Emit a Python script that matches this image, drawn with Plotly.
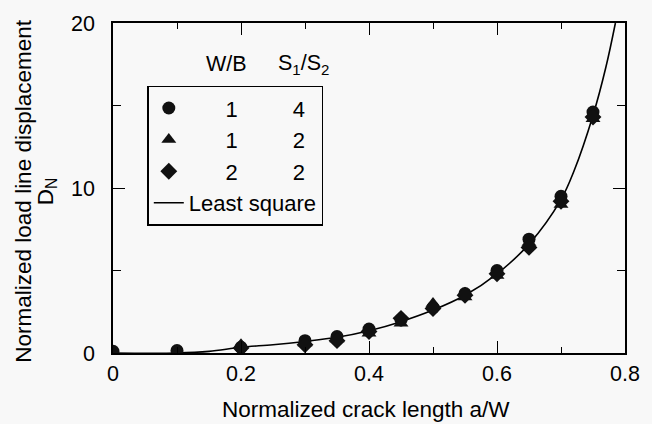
import plotly.graph_objects as go

# data
x_circ = [0.0, 0.1, 0.2, 0.3, 0.35, 0.4, 0.45, 0.5, 0.55, 0.6, 0.65, 0.7, 0.75]
y_circ = [0.1, 0.15, 0.35, 0.75, 1.0, 1.45, 2.0, 2.75, 3.6, 5.0, 6.9, 9.5, 14.6]
x_tri = [0.2, 0.3, 0.35, 0.4, 0.45, 0.5, 0.55, 0.6, 0.65, 0.7, 0.75]
y_tri = [0.5, 0.6, 0.85, 1.2, 1.8, 3.0, 3.4, 4.7, 6.7, 9.0, 14.2]
x_dia = [0.2, 0.3, 0.35, 0.4, 0.45, 0.5, 0.55, 0.6, 0.65, 0.7, 0.75]
y_dia = [0.3, 0.5, 0.75, 1.3, 2.1, 2.7, 3.5, 4.8, 6.4, 9.2, 14.3]
x_fit = [0.0, 0.1, 0.15, 0.2, 0.25, 0.3, 0.35, 0.4, 0.45, 0.5, 0.55, 0.6, 0.65, 0.7, 0.72, 0.75, 0.77, 0.785]
y_fit = [0.0, 0.0, 0.1, 0.35, 0.5, 0.7, 0.95, 1.35, 1.9, 2.6, 3.5, 4.8, 6.6, 9.3, 11.0, 14.4, 17.3, 20.0]

wb = ["1", "1", "2"]
s12 = ["4", "2", "2"]

FONT = "Liberation Sans, Arial, sans-serif"
pre = "&nbsp;" * 6
mid = "&nbsp;" * 9

fig = go.Figure()
fig.add_trace(go.Scatter(x=x_fit, y=y_fit, mode="lines", line=dict(color="black", width=1.6, shape="spline"),
                         name="Least square", showlegend=False))
fig.add_trace(go.Scatter(x=x_circ, y=y_circ, mode="markers", marker=dict(symbol="circle", size=13, color="#111"),
                         name=pre + wb[0] + mid + s12[0]))
fig.add_trace(go.Scatter(x=x_tri, y=y_tri, mode="markers", marker=dict(symbol="triangle-up", size=13, color="#111"),
                         name=pre + wb[1] + mid + s12[1]))
fig.add_trace(go.Scatter(x=x_dia, y=y_dia, mode="markers", marker=dict(symbol="diamond", size=13, color="#111"),
                         name=pre + wb[2] + mid + s12[2]))
fig.add_trace(go.Scatter(x=[None], y=[None], mode="lines", line=dict(color="black", width=1.6),
                         name="Least square"))

axis_common = dict(showline=True, linecolor="black", linewidth=1.5, mirror="ticks", ticks="inside",
                   tickcolor="black", tickwidth=1.2, ticklen=12, showgrid=False, zeroline=False,
                   tickfont=dict(size=21.5, color="black", family=FONT))
fig.update_xaxes(range=[0, 0.8], dtick=0.2, tickformat="~g",
                 minor=dict(dtick=0.1, ticks="inside", ticklen=6, tickcolor="black", tickwidth=1.2),
                 **axis_common)
fig.update_yaxes(range=[0, 20], dtick=10, ticksuffix="&nbsp;&nbsp;",
                 minor=dict(dtick=5, ticks="inside", ticklen=8, tickcolor="black", tickwidth=1.2),
                 **axis_common)

tfont = dict(size=22.5, color="black", family=FONT)
fig.add_annotation(xref="paper", yref="paper", x=0.494, y=-0.17, xanchor="center", yanchor="middle",
                   text="Normalized crack length a/W", showarrow=False,
                   font=dict(size=22.5, color="black", family=FONT))
fig.add_annotation(xref="paper", yref="paper", x=(22 - 113) / 520, y=0.49, xanchor="center", yanchor="middle",
                   text="Normalized load line displacement", textangle=-90, showarrow=False, font=tfont)
fig.add_annotation(xref="paper", yref="paper", x=(46 - 113) / 520, y=0.49, xanchor="center", yanchor="middle",
                   text="D<sub>N</sub>", textangle=-90, showarrow=False, font=tfont)

fig.add_annotation(xref="paper", yref="paper", x=0.221, y=0.875, xanchor="center", yanchor="middle",
                   text="W/B", showarrow=False, font=dict(size=21.5, color="black", family=FONT))
fig.add_annotation(xref="paper", yref="paper", x=0.373, y=0.875, xanchor="center", yanchor="middle",
                   text="S<sub>1</sub>/S<sub>2</sub>", showarrow=False, font=dict(size=21.5, color="black", family=FONT))

fig.update_layout(
    width=652, height=424,
    margin=dict(l=113, r=19, t=17, b=71),
    paper_bgcolor="#f8f8f8", plot_bgcolor="#f8f8f8",
    font=dict(family=FONT, color="black"),
    legend=dict(x=0.067, y=0.81, xanchor="left", yanchor="top", bgcolor="rgba(0,0,0,0)",
                bordercolor="black", borderwidth=1.5, font=dict(size=22, color="black", family=FONT),
                tracegroupgap=0, itemwidth=30),
)
fig.write_html("out.html")
